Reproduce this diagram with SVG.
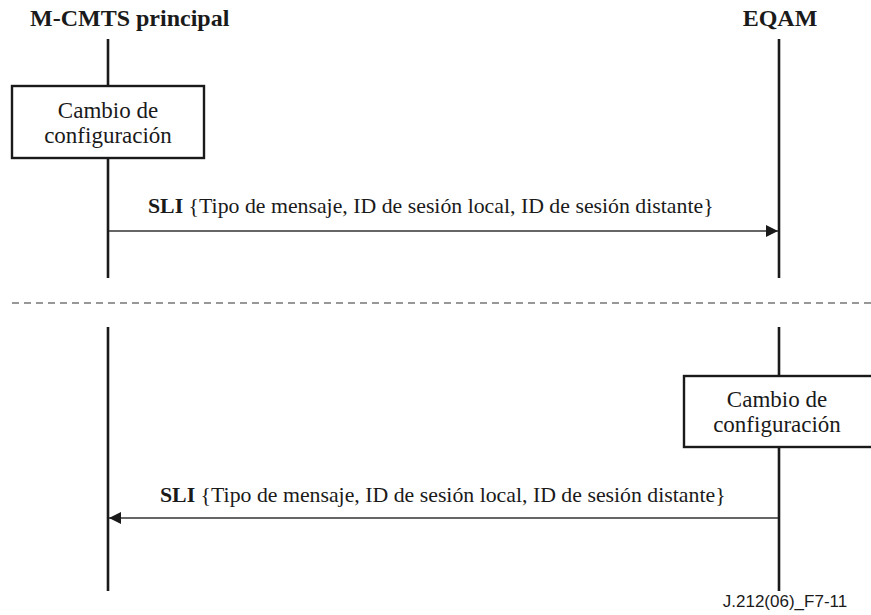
<svg xmlns="http://www.w3.org/2000/svg" width="871" height="615" viewBox="0 0 871 615">
  <style>
    .serif { font-family: "Liberation Serif", "Times New Roman", "DejaVu Serif", serif; fill: #1a1a1a; }
    .title { font-weight: bold; font-size: 24px; }
    .box-text { font-size: 23px; }
    .msg { font-size: 21.8px; }
    .msg-b { font-weight: bold; }
    .tag { font-family: "Liberation Sans", Arial, sans-serif; font-size: 17px; fill: #1a1a1a; }
    .life { stroke: #1a1a1a; stroke-width: 2.6; fill: none; }
    .box { stroke: #1a1a1a; stroke-width: 2.4; fill: #ffffff; }
    .conn { stroke: #333333; stroke-width: 1.3; fill: none; }
    .sep { stroke: #333333; stroke-width: 1.2; stroke-dasharray: 7 5; fill: none; }
  </style>
  <defs>
    <marker id="arrow" viewBox="0 0 12 12" refX="12" refY="6" markerWidth="12" markerHeight="12" markerUnits="userSpaceOnUse" orient="auto">
      <path d="M0,0 L12,6 L0,12 z" fill="#1a1a1a"/>
    </marker>
  </defs>

  <rect width="871" height="615" fill="#ffffff"/>

  <!-- participant headers -->
  <g id="header-mcmts">
    <text class="serif title" x="30" y="26">M-CMTS principal</text>
  </g>
  <g id="header-eqam">
    <text class="serif title" x="780" y="26" text-anchor="middle">EQAM</text>
  </g>

  <!-- lifelines -->
  <g id="lifelines">
    <line class="life" x1="108" y1="39" x2="108" y2="278"/>
    <line class="life" x1="779" y1="39" x2="779" y2="278"/>
    <line class="life" x1="108" y1="327" x2="108" y2="591"/>
    <line class="life" x1="779" y1="327" x2="779" y2="591"/>
  </g>

  <!-- upper scenario: configuration change at M-CMTS -->
  <g id="change-mcmts">
    <rect class="box" x="12" y="86" width="192" height="72"/>
    <text class="serif box-text" x="108" y="118" text-anchor="middle">Cambio de</text>
    <text class="serif box-text" x="108" y="143" text-anchor="middle">configuración</text>
  </g>

  <!-- lower scenario: configuration change at EQAM -->
  <g id="change-eqam">
    <rect class="box" x="684" y="376" width="200" height="71"/>
    <text class="serif box-text" x="777" y="407" text-anchor="middle">Cambio de</text>
    <text class="serif box-text" x="777" y="432" text-anchor="middle">configuración</text>
  </g>

  <!-- separator between the two scenarios -->
  <g id="separator">
    <line class="sep" x1="12" y1="303" x2="871" y2="303"/>
  </g>

  <!-- messages -->
  <g id="connectors">
    <line class="conn" x1="109" y1="231" x2="778" y2="231" marker-end="url(#arrow)"/>
    <line class="conn" x1="778" y1="518" x2="109" y2="518" marker-end="url(#arrow)"/>
  </g>
  <g id="msg-labels">
    <text class="serif msg" x="148" y="213"><tspan class="msg-b">SLI</tspan> {Tipo de mensaje, ID de sesión local, ID de sesión distante}</text>
    <text class="serif msg" x="160" y="502"><tspan class="msg-b">SLI</tspan> {Tipo de mensaje, ID de sesión local, ID de sesión distante}</text>
  </g>

  <g id="figure-tag">
    <text class="tag" x="785" y="607" text-anchor="middle">J.212(06)_F7-11</text>
  </g>
</svg>
